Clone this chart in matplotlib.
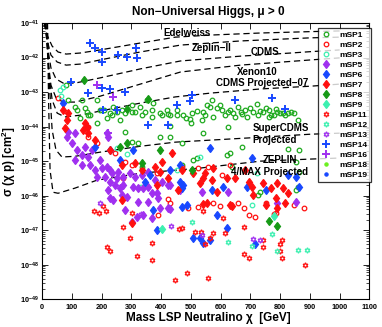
import matplotlib
matplotlib.use('Agg')
import matplotlib.pyplot as plt
import numpy as np

plt.rcParams['font.family'] = ['Liberation Sans', 'DejaVu Sans']
plt.rcParams['font.weight'] = 'bold'
plt.rcParams['mathtext.default'] = 'regular'

# ---- experimental limit curves: mass [GeV], log10(sigma [cm^2])
edel_m = [6.7, 17, 34, 54, 81, 128, 195, 330, 448, 566, 734, 902, 1000]
edel_s = [-41.0, -41.35, -41.67, -41.84, -41.90, -41.87, -41.78, -41.58, -41.41, -41.35, -41.29, -41.25, -41.23]
zep2_m = [8.4, 17, 30, 51, 81, 128, 195, 330, 465, 667, 902, 1000]
zep2_s = [-41.0, -41.49, -41.93, -42.13, -42.22, -42.19, -42.07, -41.84, -41.64, -41.52, -41.43, -41.41]
cdms_m = [10, 20, 30, 47, 71, 111, 195, 330, 465, 667, 835, 902, 1000]
cdms_s = [-41.0, -41.78, -42.30, -42.62, -42.74, -42.74, -42.59, -42.33, -42.10, -41.96, -41.87, -41.83, -41.78]
xe10_m = [12, 20, 30, 47, 71, 111, 195, 330, 465, 667, 902, 1000]
xe10_s = [-41.0, -42.07, -42.80, -43.17, -43.29, -43.29, -43.12, -42.77, -42.42, -42.22, -42.07, -42.01]
cd07_m = [13.5, 22, 34, 51, 77, 128, 195, 330, 448, 566, 734, 902, 1000]
cd07_s = [-41.0, -42.36, -43.23, -43.61, -43.72, -43.67, -43.55, -43.32, -43.14, -43.03, -42.91, -42.83, -42.77]
scdms_m = [17, 24, 34, 47, 67, 111, 195, 330, 448, 690, 902, 1000]
scdms_s = [-41.0, -42.65, -44.10, -44.68, -44.88, -44.86, -44.74, -44.57, -44.45, -44.33, -44.22, -44.19]
zmax_m = [18.5, 22, 27, 37, 54, 111, 185, 330, 532, 734, 902, 1000]
zmax_s = [-41.0, -43.23, -45.26, -45.90, -45.93, -45.78, -45.55, -45.35, -45.20, -45.00, -44.94, -44.91]

# ---- model points: mass [GeV], log10(sigma [cm^2])
sp1_m = [81, 88, 111, 118, 135, 145, 152, 155, 128, 162, 185, 185, 195, 219, 229, 236, 239, 253, 269, 279,
         279, 303, 303, 313, 330, 337, 354, 370, 370, 374, 397, 404, 421, 424, 431, 455, 455, 475, 485, 498,
         505, 522, 539, 542, 556, 566, 572, 576, 589, 599, 606, 616, 626, 633, 643, 657, 667, 673, 683, 690,
         700, 710, 721, 727, 734, 744, 751, 761, 768, 778, 785, 791, 801, 811, 818, 828, 835, 845, 859, 397,
         431, 323, 303, 431, 471, 502, 542, 626, 673, 633, 623, 508, 522, 862, 825, 852, 862, 640, 734, 727,
         859, 852, 337, 471, 263, 209, 347, 549, 650, 761]
sp1_s = [-42.80, -43.23, -43.43, -43.52, -43.23, -43.46, -43.58, -43.67, -43.75, -43.67, -43.23, -43.90, -43.52,
         -43.75, -43.61, -43.67, -43.43, -43.58, -43.52, -43.61, -44.16, -43.38, -43.58, -43.58, -43.43, -43.67,
         -43.23, -43.52, -43.72, -43.32, -43.61, -43.67, -43.52, -43.64, -43.67, -43.52, -43.67, -43.67, -43.75,
         -43.78, -43.61, -43.55, -43.81, -43.58, -43.38, -43.43, -43.23, -43.72, -43.46, -43.38, -43.52, -43.67,
         -43.58, -43.52, -43.61, -43.43, -43.58, -43.64, -43.52, -43.72, -43.46, -43.58, -43.35, -43.67, -43.55,
         -43.58, -43.46, -43.52, -43.67, -43.67, -43.49, -43.58, -43.61, -43.61, -43.67, -43.61, -43.58, -43.61,
         -43.81, -44.30, -44.30, -44.48, -44.45, -43.99, -44.48, -43.90, -44.19, -44.01, -44.59, -44.77, -44.83,
         -44.97, -44.91, -44.68, -44.65, -45.03, -45.32, -45.17, -45.90, -45.99, -45.75, -45.84, -45.17, -45.12,
         -43.81, -43.52, -43.58, -43.67, -43.72, -43.72]
sp2_m = [54, 155, 185, 279, 273, 391, 424, 431, 492, 471, 525, 559, 606, 633, 525, 599, 677, 697, 714, 781,
         848, 879, 576, 660, 751, 785, 155, 246, 303, 387]
sp2_s = [-43.17, -44.30, -44.48, -45.03, -45.49, -46.57, -46.10, -46.22, -46.36, -45.17, -45.20, -45.17, -45.41,
         -45.12, -46.33, -46.30, -46.36, -46.57, -46.62, -46.54, -46.28, -46.36, -46.22, -46.22, -46.22, -46.51,
         -44.01, -44.77, -45.12, -45.35]
sp3_m = [61, 71, 64, 253, 286, 532, 455, 724, 707, 333]
sp3_s = [-42.94, -42.86, -43.12, -44.62, -44.80, -44.88, -45.26, -45.35, -46.28, -45.75]
sp5_m = [88, 84, 111, 101, 118, 145, 135, 155, 162, 178, 202, 219, 185, 212, 236, 256, 253, 273, 296, 313,
         337, 357, 229, 246, 273, 323, 357, 380, 404, 424, 370, 269, 239, 222, 219, 135, 229, 306, 340, 387,
         357, 323, 286, 263, 222, 229, 303, 370, 340, 320, 397, 424, 431, 539, 626, 431, 791, 852, 111, 168,
         195, 391, 465, 279]
sp5_s = [-44.16, -44.30, -44.19, -44.48, -44.68, -44.59, -44.83, -44.88, -45.12, -45.26, -45.20, -45.17, -45.46,
         -45.46, -45.35, -45.32, -45.49, -45.46, -45.35, -45.46, -45.41, -45.32, -45.61, -45.70, -45.70, -45.78,
         -45.75, -45.55, -45.61, -45.70, -45.93, -45.99, -46.13, -44.30, -44.19, -45.12, -45.26, -45.75, -45.78,
         -45.93, -46.19, -46.19, -46.04, -45.78, -45.84, -46.07, -46.77, -46.65, -46.57, -46.62, -46.36, -46.36,
         -45.70, -45.90, -45.90, -46.39, -46.22, -46.19, -44.97, -44.68, -44.97, -46.07, -45.84, -46.42]
sp6_m = [71, 229, 347, 374, 387, 431, 471, 465, 572, 690, 852, 862, 589, 532, 623, 566, 542, 471, 488, 717,
         566, 707, 475, 609, 825, 465, 263, 306, 178, 508, 751, 364]
sp6_s = [-43.32, -44.68, -45.61, -46.42, -47.00, -45.26, -45.78, -45.61, -45.84, -45.75, -45.46, -45.75, -46.57,
         -47.23, -46.94, -47.29, -47.38, -46.33, -46.28, -47.41, -44.62, -44.91, -45.70, -45.75, -45.41, -45.12,
         -44.97, -44.68, -44.59, -47.23, -45.84, -45.41]
sp7_m = [71, 84, 77, 145, 152, 138, 88, 155, 269, 313, 380, 404, 438, 269, 303, 424, 387, 397, 508, 532,
         549, 572, 623, 650, 707, 741, 768, 791, 811, 825, 785, 633, 556, 589, 542, 640, 751, 791, 818, 576,
         542, 694, 710, 337, 471, 229, 178, 458, 683]
sp7_s = [-43.52, -43.81, -44.04, -43.90, -44.01, -44.10, -43.61, -44.19, -45.12, -45.06, -45.17, -45.03, -44.77,
         -46.13, -46.80, -45.49, -45.70, -45.32, -45.35, -45.64, -45.35, -45.55, -45.49, -45.49, -45.75, -45.64,
         -45.78, -45.64, -45.78, -45.93, -46.07, -46.28, -46.22, -45.90, -46.25, -46.30, -46.28, -46.36, -46.22,
         -45.20, -45.49, -45.61, -45.99, -45.26, -45.26, -44.68, -44.39, -45.84, -45.26]
sp8_m = [141, 357, 286, 263, 286, 337, 505, 761, 788, 397]
sp8_s = [-42.65, -43.20, -43.49, -44.59, -44.48, -45.06, -45.26, -46.74, -46.88, -44.68]
sp9_m = [404, 778]
sp9_s = [-46.97, -46.59]
sp11_m = [175, 192, 215, 205, 273, 296, 219, 229, 303, 320, 370, 370, 448, 488, 559, 542, 461, 471, 515, 535,
          549, 576, 566, 616, 609, 680, 677, 697, 744, 744, 808, 798, 798, 808, 882]
sp11_s = [-46.45, -46.51, -46.45, -46.30, -46.91, -47.23, -47.49, -47.61, -46.51, -47.75, -47.38, -47.87, -48.45,
          -48.25, -48.39, -46.45, -46.97, -46.94, -47.06, -47.06, -47.41, -47.09, -47.23, -47.09, -46.65, -46.91,
          -47.70, -47.81, -47.29, -47.49, -47.29, -47.41, -47.61, -47.81, -48.01]
sp12_m = [505, 626, 707, 774, 791, 859, 892]
sp12_s = [-46.77, -47.35, -47.46, -47.12, -47.61, -47.58, -47.58]
sp13_m = [195, 333, 434, 539, 710, 731]
sp13_s = [-46.22, -46.54, -46.88, -47.14, -47.26, -47.29]
sp14_m = [162, 178, 202, 256, 286, 316, 320, 202, 98, 155, 202, 229, 279, 205, 253, 357, 455, 505, 498, 650,
          774, 818, 424]
sp14_s = [-41.58, -41.72, -41.84, -41.93, -41.99, -41.72, -42.01, -42.13, -42.71, -43.03, -42.88, -42.91, -43.00,
          -43.52, -43.52, -43.96, -43.38, -43.09, -43.26, -43.23, -43.17, -43.49, -43.96]
sp16_m = [185, 239, 222]
sp16_s = [-42.80, -43.14, -44.19]
sp18_m, sp18_s = [], []
sp19_m, sp19_s = [], []

green = '#1faa1f'
red = '#ff1010'
aqua = '#3cf0b0'
purple = '#a030f0'
blue = '#1848ff'
lime = '#6cf020'
star6 = (6, 1, 0)

fig = plt.figure(figsize=(3.82, 3.27), dpi=100)
ax = fig.add_axes([0.110, 0.0847, 0.857, 0.845])

limits = [(edel_m, edel_s), (zep2_m, zep2_s), (cdms_m, cdms_s), (xe10_m, xe10_s),
          (cd07_m, cd07_s), (scdms_m, scdms_s), (zmax_m, zmax_s)]
for m, s in limits:
    ax.plot(m, 10 ** np.array(s), color='black', lw=0.9, ls=(0, (5, 3)), zorder=2)

series = [
    ('mSP1', sp1_m, sp1_s, 'o', green, 'none', 3.3),
    ('mSP2', sp2_m, sp2_s, 'o', red, 'none', 3.3),
    ('mSP3', sp3_m, sp3_s, 'o', aqua, 'none', 3.3),
    ('mSP5', sp5_m, sp5_s, 'd', purple, purple, 4.4),
    ('mSP6', sp6_m, sp6_s, 'd', blue, blue, 4.4),
    ('mSP7', sp7_m, sp7_s, 'd', red, red, 4.4),
    ('mSP8', sp8_m, sp8_s, 'd', '#169a16', '#169a16', 4.4),
    ('mSP9', sp9_m, sp9_s, 'd', aqua, aqua, 4.4),
    ('mSP11', sp11_m, sp11_s, star6, red, 'none', 3.9),
    ('mSP12', sp12_m, sp12_s, star6, aqua, 'none', 3.9),
    ('mSP13', sp13_m, sp13_s, star6, purple, 'none', 3.9),
    ('mSP14', sp14_m, sp14_s, '+', blue, blue, 6.0),
    ('mSP16', sp16_m, sp16_s, '+', purple, purple, 6.0),
    ('mSP18', sp18_m, sp18_s, 'o', lime, lime, 2.3),
    ('mSP19', sp19_m, sp19_s, 'o', blue, blue, 2.3),
]
for name, m, s, mk, col, fc, ms in series:
    ax.plot(m, 10 ** np.array(s, dtype=float), ls='none', marker=mk, ms=ms, mec=col, mfc=fc,
            mew=1.4 if mk == '+' else 0.9, label=name, zorder=3)

ax.set_xlim(0, 1100)
ax.set_ylim(1e-49, 1e-41)
ax.set_yscale('log')
ax.set_xticks(np.arange(0, 1101, 100))
ax.set_yticks([10.0 ** k for k in range(-49, -40)])
ax.set_yticklabels(['$10^{%d}$' % k for k in range(-49, -40)])
ax.tick_params(which='both', direction='in', top=True, right=True, labelsize=5.3)
ax.tick_params(axis='y', pad=2)
ax.tick_params(which='major', length=4, width=0.6)
ax.tick_params(which='minor', length=2, width=0.5)
for sp in ax.spines.values():
    sp.set_linewidth(0.8)

labels = [('Edelweiss', 0.443, 0.964), ('Zeplin\u2212II', 0.519, 0.910), ('CDMS', 0.681, 0.895),
          ('Xenon10', 0.656, 0.823), ('CDMS Projected\u221207', 0.672, 0.783),
          ('SuperCDMS', 0.730, 0.620), ('Projected', 0.711, 0.577),
          ('ZEPLIN', 0.727, 0.504), ('4/MAX Projected', 0.696, 0.461)]
for txt, xf, yf in labels:
    ax.text(xf, yf, txt, transform=ax.transAxes, ha='center', va='center',
            fontsize=7, fontweight='bold', zorder=4)

leg = ax.legend(loc='upper right', bbox_to_anchor=(1.005, 0.982), fontsize=6, frameon=True,
                fancybox=False, edgecolor='black', labelspacing=0.26, handlelength=1.2,
                handletextpad=1.0, borderpad=0.4, borderaxespad=0, markerscale=1.0)
leg.get_frame().set_linewidth(0.9)
leg.set_zorder(5)

fig.text(0.545, 0.963, 'Non\u2212Universal Higgs, \u03bc > 0', ha='center', va='center',
         fontsize=8.5, fontweight='bold')
fig.text(0.545, 0.028, 'Mass LSP Neutralino \u03c7  [GeV]', ha='center', va='center',
         fontsize=8.5, fontweight='bold')
fig.text(0.024, 0.505, '\u03c3 (\u03c7 p) [cm$^2$]', ha='center', va='center', rotation=90,
         fontsize=8.5, fontweight='bold')

fig.savefig('out.png', dpi=100)
